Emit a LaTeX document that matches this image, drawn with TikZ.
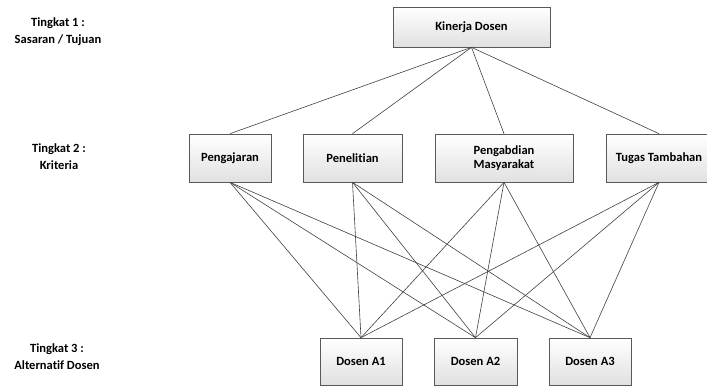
\documentclass[tikz,border=0pt]{standalone}
\usepackage{fontspec}
\setmainfont{Carlito}[Ligatures={NoCommon}]
\usepackage{tikz}
\usetikzlibrary{shadows}

\tikzset{
  kotak/.style = {draw=black!65, line width=0.5pt, top color=white, bottom color=black!12,
    drop shadow={shadow xshift=0.7pt, shadow yshift=-0.7pt, opacity=0.35},
    align=center, inner sep=0pt, font=\fontsize{9.4}{11}\selectfont\bfseries},
  tingkat/.style = {align=center, inner sep=0pt, font=\fontsize{9.4}{12.75}\selectfont\bfseries},
  garis/.style = {draw=black!75, line width=0.45pt}
}

\begin{document}
\begin{tikzpicture}[x=0.75pt, y=-0.75pt]
\useasboundingbox (0,0) rectangle (707,390);

\node[tingkat] (t1) at (58,31.5) {Tingkat 1 :\\Sasaran / Tujuan};
\node[tingkat] (t2) at (59,156.5) {Tingkat 2 :\\Kriteria};
\node[tingkat] (t3) at (57,356.5) {Tingkat 3 :\\Alternatif Dosen};

\node[kotak, minimum width=117.75pt, minimum height=30pt] (kd) at (471.5,27) {Kinerja Dosen};

\node[kotak, minimum width=61.5pt, minimum height=36pt] (pj) at (230,158) {Pengajaran};
\node[kotak, minimum width=74.25pt, minimum height=36pt] (pn) at (352.5,158) {Penelitian};
\node[kotak, minimum width=103.5pt, minimum height=36pt] (pm) at (504,158) {Pengabdian\\Masyarakat};
\node[kotak, minimum width=79.5pt, minimum height=36pt] (tt) at (659,158) {Tugas Tambahan};

\node[kotak, minimum width=61.5pt, minimum height=35.25pt] (a1) at (361,361.5) {Dosen A1};
\node[kotak, minimum width=62.25pt, minimum height=35.25pt] (a2) at (475.5,361.5) {Dosen A2};
\node[kotak, minimum width=61.5pt, minimum height=35.25pt] (a3) at (590,361.5) {Dosen A3};

\draw[garis] (kd.south)--(pj.north);
\draw[garis] (kd.south)--(pn.north);
\draw[garis] (kd.south)--(pm.north);
\draw[garis] (kd.south)--(tt.north);

\draw[garis] (pj.south)--(a1.north);
\draw[garis] (pj.south)--(a2.north);
\draw[garis] (pj.south)--(a3.north);
\draw[garis] (pn.south)--(a1.north);
\draw[garis] (pn.south)--(a2.north);
\draw[garis] (pn.south)--(a3.north);
\draw[garis] (pm.south)--(a1.north);
\draw[garis] (pm.south)--(a2.north);
\draw[garis] (pm.south)--(a3.north);
\draw[garis] (tt.south)--(a1.north);
\draw[garis] (tt.south)--(a2.north);
\draw[garis] (tt.south)--(a3.north);
\end{tikzpicture}
\end{document}
